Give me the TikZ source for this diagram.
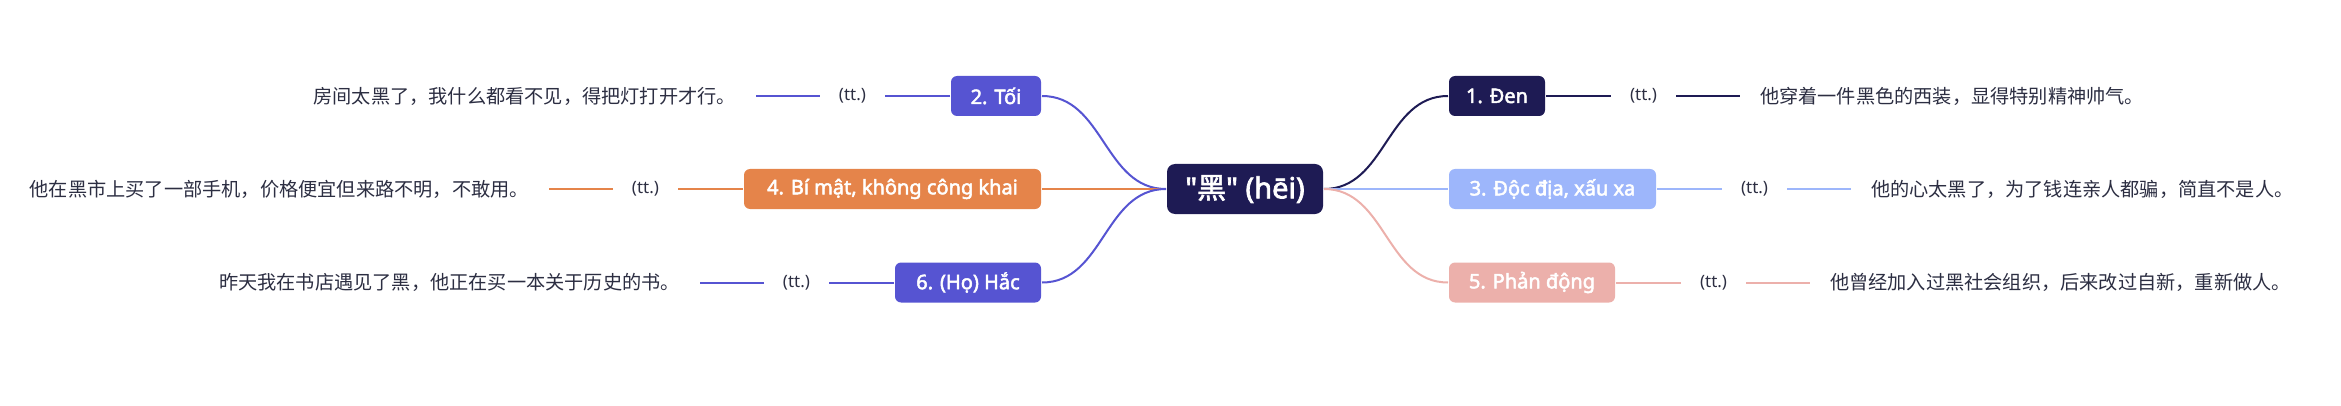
\documentclass[tikz,border=0pt]{standalone}
\usepackage{fontspec}
\setmainfont{Noto Sans}
\newfontfamily\labelfont[FakeBold=2.5]{Noto Sans}
\newfontfamily\cjk{Noto Sans CJK SC}
\newfontfamily\cjkbold[FakeBold=2]{Noto Sans CJK SC}
\usetikzlibrary{positioning}
\definecolor{navy}{RGB}{30,27,84}
\definecolor{violet}{RGB}{86,84,210}
\definecolor{orange}{RGB}{229,132,74}
\definecolor{skyblue}{RGB}{157,182,251}
\definecolor{rose}{RGB}{236,176,171}
\definecolor{ink}{RGB}{44,46,66}
\tikzset{
    topic/.style={fill=navy,rounded corners=8pt,text=white,minimum width=156pt,minimum height=50pt,inner sep=0pt,font=\labelfont\fontsize{29}{33}\selectfont},
    branch/.style={rounded corners=6pt,text=white,minimum height=40pt,inner xsep=0pt,font=\labelfont\fontsize{20}{23}\selectfont},
    ttnode/.style={inner xsep=18pt,inner ysep=0pt,text=ink,font=\fontsize{17}{19}\selectfont},
    example/.style={inner xsep=19pt,inner ysep=0pt,text=ink,font=\cjk\fontsize{19.2}{22}\selectfont}
}
\begin{document}
\begin{tikzpicture}[x=1pt,y=-1pt,line width=2pt]
    \useasboundingbox (0,0) rectangle (2341,406);
    \node [topic] (hei) at (1245,189) {"{\cjkbold 黑}" (hēi)};
    % right side
    \node [branch,fill=navy,anchor=west,minimum width=96pt] (den) at (1448,96) {1. Đen};
    \node [branch,fill=skyblue,anchor=west,minimum width=207pt] (docdia) at (1448,189) {3. Độc địa, xấu xa};
    \node [branch,fill=rose,anchor=west,minimum width=166pt] (phandong) at (1448,282.5) {5. Phản động};
    \node [ttnode,right=65pt of den] (tt1) {(tt.)};
    \node [example,right=64pt of tt1] (ex1) {他穿着一件黑色的西装，显得特别精神帅气。};
    \node [ttnode,right=65pt of docdia] (tt3) {(tt.)};
    \node [example,right=64pt of tt3] (ex3) {他的心太黑了，为了钱连亲人都骗，简直不是人。};
    \node [ttnode,right=65pt of phandong] (tt5) {(tt.)};
    \node [example,right=64pt of tt5] (ex5) {他曾经加入过黑社会组织，后来改过自新，重新做人。};
    % left side
    \node [branch,fill=violet,anchor=east,minimum width=90pt] (toi) at (1042,96) {2. Tối};
    \node [branch,fill=orange,anchor=east,minimum width=297pt] (bimat) at (1042,189) {4. Bí mật, không công khai};
    \node [branch,fill=violet,anchor=east,minimum width=146pt] (hac) at (1042,282.5) {6. (Họ) Hắc};
    \node [ttnode,left=65pt of toi] (tt2) {(tt.)};
    \node [example,left=64pt of tt2] (ex2) {房间太黑了，我什么都看不见，得把灯打开才行。};
    \node [ttnode,left=65pt of bimat] (tt4) {(tt.)};
    \node [example,left=64pt of tt4] (ex4) {他在黑市上买了一部手机，价格便宜但来路不明，不敢用。};
    \node [ttnode,left=65pt of hac] (tt6) {(tt.)};
    \node [example,left=64pt of tt6] (ex6) {昨天我在书店遇见了黑，他正在买一本关于历史的书。};
    % connectors
    \draw [navy] (hei.east) .. controls +(62,0) and +(-62,0) .. (den.west);
    \draw [skyblue] (hei.east) -- (docdia.west);
    \draw [rose] (hei.east) .. controls +(62,0) and +(-62,0) .. (phandong.west);
    \draw [violet] (hei.west) .. controls +(-62,0) and +(62,0) .. (toi.east);
    \draw [orange] (hei.west) -- (bimat.east);
    \draw [violet] (hei.west) .. controls +(-62,0) and +(62,0) .. (hac.east);
    \draw [navy] (den.east) -- (tt1.west) (tt1.east) -- (ex1.west);
    \draw [skyblue] (docdia.east) -- (tt3.west) (tt3.east) -- (ex3.west);
    \draw [rose] (phandong.east) -- (tt5.west) (tt5.east) -- (ex5.west);
    \draw [violet] (toi.west) -- (tt2.east) (tt2.west) -- (ex2.east);
    \draw [orange] (bimat.west) -- (tt4.east) (tt4.west) -- (ex4.east);
    \draw [violet] (hac.west) -- (tt6.east) (tt6.west) -- (ex6.east);
\end{tikzpicture}
\end{document}
